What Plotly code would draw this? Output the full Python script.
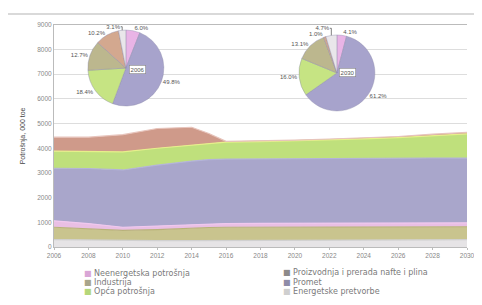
import plotly.graph_objects as go

years = [2006, 2008, 2010, 2012, 2014, 2015, 2016, 2018, 2020, 2022, 2024, 2026, 2028, 2030]

# stacked layers (000 toe), bottom to top
energetske_pretvorbe = [300, 280, 250, 255, 260, 260, 265, 265, 270, 275, 280, 285, 290, 300]
industrija = [500, 460, 420, 445, 520, 530, 535, 535, 530, 530, 525, 525, 525, 520]
neenergetska = [260, 210, 130, 140, 120, 140, 150, 155, 160, 160, 165, 165, 165, 160]
promet = [2130, 2230, 2320, 2480, 2580, 2610, 2610, 2615, 2610, 2615, 2620, 2620, 2625, 2620]
opca = [690, 690, 730, 680, 660, 670, 690, 700, 730, 760, 790, 835, 915, 980]
proizvodnja_nafte = [570, 580, 700, 800, 710, 390, 30, 30, 30, 35, 40, 45, 50, 60]

names = ["Energetske pretvorbe", "Industrija", "Neenergetska potrošnja", "Promet",
         "Opća potrošnja", "Proizvodnja i prerada nafte i plina"]
layers = [energetske_pretvorbe, industrija, neenergetska, promet, opca, proizvodnja_nafte]
fills = ["#e6e4e6", "#c9c48e", "#e9bfe4", "#a9a6cb", "#bfe07c", "#cf9a8a"]
edges = ["#d0d0d0", "#b8b27a", "#f0c8ee", "#b4b4d8", "#e6f08a", "#e7c4bc"]

# legend layout: two columns, three rows
legend_left = ["Neenergetska potrošnja", "Industrija", "Opća potrošnja"]
legend_right = ["Proizvodnja i prerada nafte i plina", "Promet", "Energetske pretvorbe"]
legend_marker = {"Neenergetska potrošnja": "#d9a6d6", "Industrija": "#a9a58a",
                 "Opća potrošnja": "#b5d77a", "Proizvodnja i prerada nafte i plina": "#8d8a8a",
                 "Promet": "#8f8ca8", "Energetske pretvorbe": "#cfcfcf"}

# pie data (% shares), clockwise from 12 o'clock
pie_labels = ["Neenergetska potrošnja", "Promet", "Opća potrošnja", "Industrija",
              "Proizvodnja i prerada nafte i plina", "Energetske pretvorbe"]
pie_colors = ["#e9b4e6", "#a7a3cc", "#c6e483", "#bcb78e", "#d3a88f", "#e9e6ea"]
pie_2006 = [6.0, 49.8, 18.4, 12.7, 10.2, 3.1]
pie_2030 = [4.1, 61.2, 16.0, 13.1, 1.0, 4.7]
pie_years = ["2006", "2030"]

y_ticks = list(range(0, 10000, 1000))
x_ticks = list(range(2006, 2031, 2))

fig = go.Figure()
for nm, vals, fc, ec in zip(names, layers, fills, edges):
    fig.add_trace(go.Scatter(
        x=years, y=vals, name=nm, stackgroup="one", mode="lines",
        line=dict(width=1.2, color=ec), fillcolor=fc, showlegend=False,
    ))

domains = [dict(x=[0.026, 0.322], y=[0.605, 0.931]), dict(x=[0.53, 0.84], y=[0.584, 0.910])]
box_pos = [(0.181, 0.78), (0.732, 0.768)]
for vals, dom, yr, bp in zip([pie_2006, pie_2030], domains, pie_years, box_pos):
    fig.add_trace(go.Pie(
        labels=pie_labels, values=vals, sort=False, direction="clockwise", rotation=0,
        marker=dict(colors=pie_colors, line=dict(color="#8a88a8", width=0.4)),
        text=[f"{v:.1f}%" for v in vals], textinfo="text", textposition="outside",
        textfont=dict(size=6, color="#555555"), showlegend=False, domain=dom,
        hoverinfo="label+text",
    ))
    fig.add_annotation(
        x=bp[0], y=bp[1], xref="paper", yref="paper", text=yr, showarrow=False,
        font=dict(size=6, color="#555555"), bgcolor="white",
        bordercolor="#888888", borderwidth=0.6, borderpad=1,
    )

# legend drawn as text
row_y = [-0.110, -0.152, -0.190]
for col_x, col in [(0.068, legend_left), (0.55, legend_right)]:
    for yy, nm in zip(row_y, col):
        fig.add_annotation(
            x=col_x, y=yy, xref="paper", yref="paper", xanchor="left", yanchor="middle",
            showarrow=False,
            text=f'<span style="color:{legend_marker[nm]}">■</span> {nm}',
            font=dict(size=8, color="#7a7a7a", family="DejaVu Sans, sans-serif"),
        )

fig.add_shape(type="line", xref="paper", yref="paper", x0=-0.12, x1=1.04, y0=1.0, y1=1.0,
              line=dict(color="#cccccc", width=1.5), layer="below")

fig.update_layout(
    width=474, height=297,
    margin=dict(l=46, r=15, t=2, b=58),
    paper_bgcolor="white", plot_bgcolor="white",
    font=dict(family="Liberation Sans, Arial, sans-serif", size=7, color="#666666"),
    showlegend=False,
    xaxis=dict(range=[2006, 2030], tickvals=x_ticks, ticktext=[str(t) for t in x_ticks],
               showgrid=False, showline=True, linecolor="#bbbbbb", ticks="outside",
               ticklen=2, tickcolor="#bbbbbb", tickfont=dict(size=6.5, color="#888888"),
               mirror=True, zeroline=False),
    yaxis=dict(range=[0, 9000], domain=[0, 0.9536], tickvals=y_ticks, ticktext=[str(t) for t in y_ticks],
               showgrid=True, gridcolor="#dddddd", showline=True, linecolor="#bbbbbb",
               tickfont=dict(size=6.5, color="#888888"), zeroline=False,
               title=dict(text="Potrošnja, 000 toe", font=dict(size=7, color="#444444"), standoff=10)),
)

fig.write_html("out.html")
